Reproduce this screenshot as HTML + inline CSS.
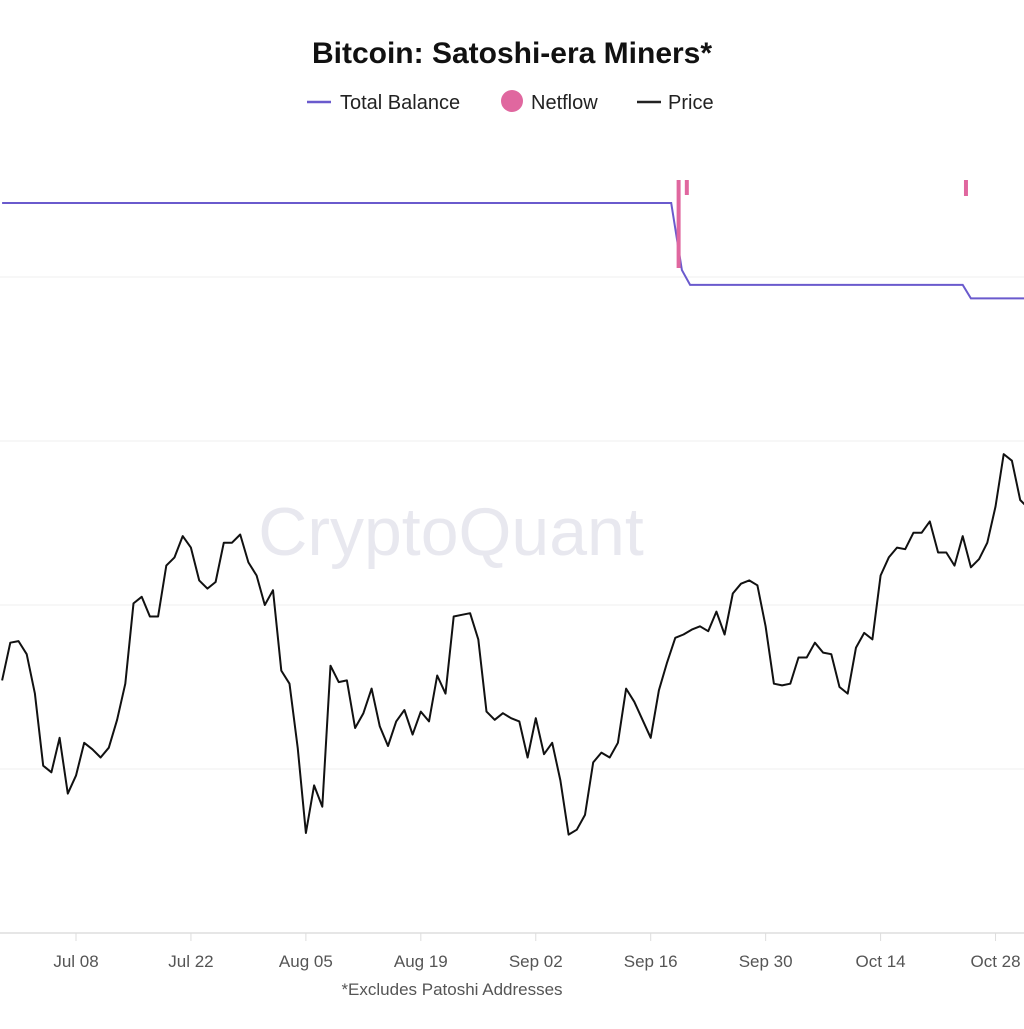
<!DOCTYPE html>
<html><head><meta charset="utf-8"><style>
html,body{margin:0;padding:0;background:#fff;}
body{width:1024px;height:1024px;overflow:hidden;font-family:"Liberation Sans",sans-serif;}
</style></head><body>
<svg id="chart" width="1024" height="1024" viewBox="0 0 1024 1024" xmlns="http://www.w3.org/2000/svg">
<rect width="1024" height="1024" fill="#fff"/>
<text x="512" y="63" text-anchor="middle" font-size="30" font-weight="bold" fill="#111">Bitcoin: Satoshi-era Miners*</text>
<g>
 <g><line x1="307" y1="102" x2="331" y2="102" stroke="#6a5acd" stroke-width="2.5"/><text x="340" y="109" font-size="20" fill="#222">Total Balance</text></g>
 <g><circle cx="512" cy="101" r="11" fill="#e0679f"/><text x="531" y="109" font-size="20" fill="#222">Netflow</text></g>
 <g><line x1="637" y1="102" x2="661" y2="102" stroke="#222" stroke-width="2.5"/><text x="668" y="109" font-size="20" fill="#222">Price</text></g>
</g>
<g id="grid"></g>
<text x="451" y="555" text-anchor="middle" font-size="68" fill="#e8e8ef">CryptoQuant</text>
<g id="marks"></g>
<line x1="0" y1="933" x2="1024" y2="933" stroke="#ddd" stroke-width="1.5"/>
<g id="xaxis"></g>
<text x="452" y="995" text-anchor="middle" font-size="17" fill="#555">*Excludes Patoshi Addresses</text>
</svg>
<script>
const priceValues = [55.4,57.7,57.8,57.0,54.6,50.2,49.8,51.9,48.5,49.6,51.6,51.2,50.7,51.3,53.0,55.2,60.1,60.5,59.3,59.3,62.4,62.9,64.2,63.5,61.5,61.0,61.4,63.8,63.8,64.3,62.6,61.8,60.0,60.9,56.0,55.2,51.3,46.1,49.0,47.7,56.3,55.3,55.4,52.5,53.4,54.9,52.6,51.4,52.9,53.6,52.1,53.5,52.9,55.7,54.6,59.3,59.4,59.5,57.9,53.5,53.0,53.4,53.1,52.9,50.7,53.1,50.9,51.6,49.3,46.0,46.3,47.2,50.4,51.0,50.7,51.6,54.9,54.1,53.0,51.9,54.8,56.5,58.0,58.2,58.5,58.7,58.4,59.6,58.2,60.7,61.3,61.5,61.2,58.7,55.2,55.1,55.2,56.8,56.8,57.7,57.1,57.0,55.0,54.6,57.4,58.3,57.9,61.8,62.9,63.5,63.4,64.4,64.4,65.1,63.2,63.2,62.4,64.2,62.3,62.8,63.8,66.0,69.2,68.8,66.4,65.9];
const priceStartDay = -9;
const balanceDays = [-9, 72.5, 73.8, 74.8, 108, 109, 116];
const balanceValues = [45000, 45000, 44100, 43900, 43900, 43720, 43720];
const netflowDays = [73.4, 74.4, 108.4];
const netflowValues = [-880, -150, -160];
const tickLabels = ["Jul 08","Jul 22","Aug 05","Aug 19","Sep 02","Sep 16","Sep 30","Oct 14","Oct 28"];
const tickDays = [0,14,28,42,56,70,84,98,112];
const gridPrices = [80,70,60,50];

const NS="http://www.w3.org/2000/svg";
function xDay(d){return 76 + d*8.21;}
function yPrice(p){return 605 - (p-60)*16.4;}
function yBal(v){return 203 + (45000-v)*0.0745;}
function yFlow(v){return 180 - v*0.1;}
function mk(tag,attrs,parent){const e=document.createElementNS(NS,tag);for(const k in attrs)e.setAttribute(k,attrs[k]);parent.appendChild(e);return e;}

const grid=document.getElementById('grid');
gridPrices.forEach(p=>{
 const l=mk('line',{x1:0,x2:1024,y1:yPrice(p),y2:yPrice(p),stroke:'#efefef','stroke-width':1},grid);
 
 
});
const xa=document.getElementById('xaxis');
tickDays.forEach((d,i)=>{
 const t=mk('line',{x1:xDay(d),x2:xDay(d),y1:933,y2:941,stroke:'#ddd','stroke-width':1},xa);
 
 
 const tx=mk('text',{x:xDay(d),y:967,'text-anchor':'middle','font-size':17,fill:'#555'},xa);
 tx.textContent=tickLabels[i];
 
 
});
const marks=document.getElementById('marks');
const bp=balanceDays.map((d,i)=>xDay(d).toFixed(1)+','+yBal(balanceValues[i]).toFixed(1)).join(' ');
const bl=mk('polyline',{points:bp,fill:'none',stroke:'#6a5acd','stroke-width':2},marks);


netflowDays.forEach((d,i)=>{
 const y0=yFlow(0), y1=yFlow(netflowValues[i]);
 const r=mk('rect',{x:xDay(d)-2,y:Math.min(y0,y1),width:4,height:Math.abs(y1-y0),fill:'#e0679f'},marks);
 
 
});
const pp=priceValues.map((v,i)=>xDay(priceStartDay+i).toFixed(1)+','+yPrice(v).toFixed(1)).join(' ');
const pl=mk('polyline',{points:pp,fill:'none',stroke:'#111','stroke-width':2,'stroke-linejoin':'round'},marks);


</script>
</body></html>
